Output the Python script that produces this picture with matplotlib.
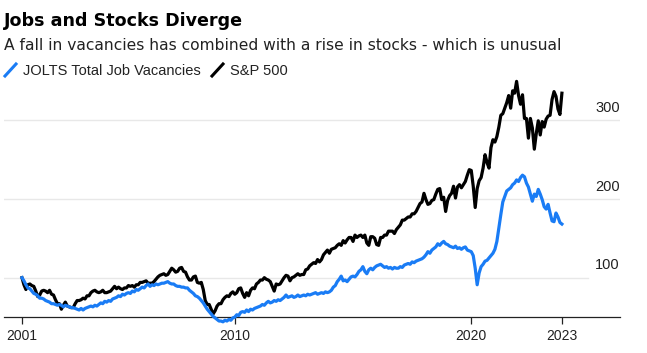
import pandas as pd
import matplotlib.pyplot as plt
import matplotlib.transforms as mtransforms
from matplotlib.lines import Line2D

plt.rcParams['font.family'] = ['Liberation Sans', 'DejaVu Sans']

# ---------------------------------------------------------
# data: monthly, Jan 2001 = 100, Jan 2001 .. Nov 2023
# ---------------------------------------------------------
months = pd.date_range("2001-01-01", "2023-11-01", freq="MS")

sp500 = [
    100, 91, 85, 91, 92, 90, 89, 83, 76, 78, 83, 84,          # 2001
    83, 81, 84, 79, 78, 72, 67, 67, 60, 65, 69, 64,           # 2002
    63, 62, 62, 67, 71, 71, 72, 74, 73, 77, 77, 81,           # 2003
    83, 84, 82, 81, 82, 84, 81, 81, 82, 83, 86, 89,           # 2004
    86, 88, 86, 85, 87, 87, 90, 89, 90, 88, 91, 91,           # 2005
    94, 94, 95, 96, 93, 93, 93, 95, 98, 101, 103, 104,        # 2006
    105, 103, 104, 108, 112, 110, 107, 108, 112, 113, 108, 107,  # 2007
    101, 97, 97, 101, 102, 94, 93, 94, 85, 71, 66, 66,        # 2008
    60, 54, 58, 64, 67, 67, 72, 75, 77, 76, 80, 82,           # 2009
    79, 81, 86, 87, 80, 75, 81, 77, 84, 87, 86, 92,           # 2010
    94, 97, 97, 100, 98, 97, 95, 89, 83, 92, 91, 92,          # 2011
    96, 100, 103, 102, 96, 100, 101, 103, 105, 103, 104, 104,  # 2012
    110, 111, 115, 117, 119, 118, 123, 120, 123, 129, 132, 135,  # 2013
    131, 136, 137, 138, 141, 143, 141, 147, 144, 148, 151, 151,  # 2014
    146, 154, 151, 153, 154, 151, 154, 144, 141, 152, 152, 150,  # 2015
    142, 141, 151, 151, 154, 154, 159, 159, 159, 156, 161, 164,  # 2016
    167, 173, 173, 175, 177, 177, 181, 181, 184, 189, 194, 196,  # 2017
    207, 199, 193, 194, 198, 199, 206, 212, 213, 199, 202, 184,  # 2018
    198, 204, 207, 216, 201, 215, 218, 214, 218, 222, 230, 237,  # 2019
    236, 216, 189, 213, 223, 227, 239, 256, 246, 239, 265, 275,  # 2020
    272, 279, 291, 306, 308, 315, 322, 331, 315, 337, 334, 349,  # 2021
    331, 320, 332, 302, 302, 277, 302, 290, 263, 283, 299, 281,  # 2022
    298, 291, 301, 305, 306, 326, 336, 330, 314, 307, 334,       # 2023
]

jolts = [
    100, 96, 91, 87, 86, 83, 80, 79, 77, 74, 74, 73,          # 2001
    71, 70, 69, 67, 67, 66, 65, 66, 65, 63, 65, 64,           # 2002
    63, 62, 62, 61, 60, 59, 61, 59, 61, 62, 63, 64,           # 2003
    63, 65, 64, 66, 68, 67, 70, 69, 71, 70, 73, 74,           # 2004
    75, 77, 76, 79, 78, 80, 81, 80, 83, 82, 85, 84,           # 2005
    86, 88, 87, 90, 92, 89, 91, 90, 92, 91, 92, 93,           # 2006
    93, 94, 95, 93, 92, 92, 90, 89, 89, 88, 88, 87,           # 2007
    87, 84, 82, 80, 77, 76, 74, 71, 68, 64, 60, 57,           # 2008
    54, 51, 49, 47, 45, 45, 44, 46, 45, 47, 46, 49,           # 2009
    50, 53, 52, 56, 57, 56, 59, 57, 60, 59, 61, 62,           # 2010
    63, 64, 66, 65, 68, 70, 68, 69, 71, 70, 72, 71,           # 2011
    73, 75, 78, 75, 76, 77, 75, 76, 78, 76, 77, 78,           # 2012
    77, 79, 78, 79, 80, 81, 79, 80, 81, 80, 82, 81,           # 2013
    82, 84, 88, 90, 95, 98, 102, 96, 97, 95, 98, 101,         # 2014
    102, 101, 104, 108, 110, 114, 108, 105, 110, 112, 110, 113,  # 2015
    115, 116, 117, 115, 113, 114, 112, 113, 111, 113, 112, 112,  # 2016
    114, 113, 116, 117, 118, 117, 120, 119, 121, 122, 123, 124,  # 2017
    126, 129, 133, 131, 135, 137, 139, 143, 141, 144, 146, 143,  # 2018
    142, 140, 139, 138, 140, 137, 138, 136, 138, 139, 135, 134,  # 2019
    133, 128, 112, 91, 106, 114, 117, 121, 122, 125, 128, 131,   # 2020
    136, 146, 163, 180, 196, 203, 210, 212, 214, 218, 220, 224,  # 2021
    222, 227, 230, 228, 220, 215, 206, 197, 206, 203, 212, 206,  # 2022
    199, 190, 187, 193, 182, 172, 171, 182, 177, 170, 168,       # 2023
]

x = months.year + (months.month - 1) / 12.0

grid_levels = [100, 200, 300]
x_ticks = [2001, 2010, 2020, x[-1]]
x_labels = ["2001", "2010", "2020", "2023"]

# ---------------------------------------------------------
# figure
# ---------------------------------------------------------
W, H = 647, 353
fig = plt.figure(figsize=(W / 100, H / 100), dpi=100)
ax = fig.add_axes([4 / W, 36.3 / H, 616 / W, 244 / H])

blue = "#1a7cf5"
ax.plot(x, sp500, color="black", lw=2.3, solid_joinstyle="round",
        clip_on=False, zorder=3)
ax.plot(x, jolts, color=blue, lw=2.3, solid_joinstyle="round",
        clip_on=False, zorder=4)

ax.set_xlim(2000.24, 2026.29)
ax.set_ylim(50.5, 360)

# horizontal grid (the 100 line stops short of the labels)
for lvl in grid_levels:
    xmax = 0.948 if lvl == 100 else 1.0
    ax.axhline(lvl, xmin=0, xmax=xmax, color="#e8e8e8", lw=1.0, zorder=1)

trans = mtransforms.blended_transform_factory(ax.transAxes, ax.transData)
for lvl in grid_levels:
    ax.annotate(str(lvl), xy=(1.0, lvl), xycoords=trans, xytext=(0, 6),
                textcoords="offset points", ha="right", va="baseline",
                fontsize=10.5, color="#222222")

for side in ["top", "left", "right"]:
    ax.spines[side].set_visible(False)
ax.spines["bottom"].set_color("#222222")
ax.spines["bottom"].set_linewidth(0.9)
ax.spines["bottom"].set_zorder(2)

ax.set_yticks([])
ax.set_xticks(x_ticks)
ax.set_xticklabels(x_labels)
ax.tick_params(axis="x", length=5, width=0.9, color="#222222",
               labelsize=10, labelcolor="#222222", pad=4)

# ---------------------------------------------------------
# title, subtitle, legend
# ---------------------------------------------------------
fig.text(4 / W, 1 - 26 / H, "Jobs and Stocks Diverge", fontsize=12.6,
         fontweight="bold", family=["DejaVu Sans"], color="black",
         va="baseline", ha="left")
fig.text(4 / W, 1 - 50 / H,
         "A fall in vacancies has combined with a rise in stocks - which is unusual",
         fontsize=11.2, family=["DejaVu Sans"], color="#222222",
         va="baseline", ha="left")

fig.add_artist(Line2D([5 / W, 16 / W], [1 - 76 / H, 1 - 64 / H], color=blue,
                      lw=2.2, transform=fig.transFigure))
fig.text(23 / W, 1 - 75 / H, "JOLTS Total Job Vacancies", fontsize=10.5,
         color="#222222", va="baseline", ha="left")
fig.add_artist(Line2D([212 / W, 223 / W], [1 - 76 / H, 1 - 64 / H], color="black",
                      lw=2.2, transform=fig.transFigure))
fig.text(230 / W, 1 - 75 / H, "S&P 500", fontsize=10.5,
         color="#222222", va="baseline", ha="left")

fig.savefig("out.png", dpi=100)
